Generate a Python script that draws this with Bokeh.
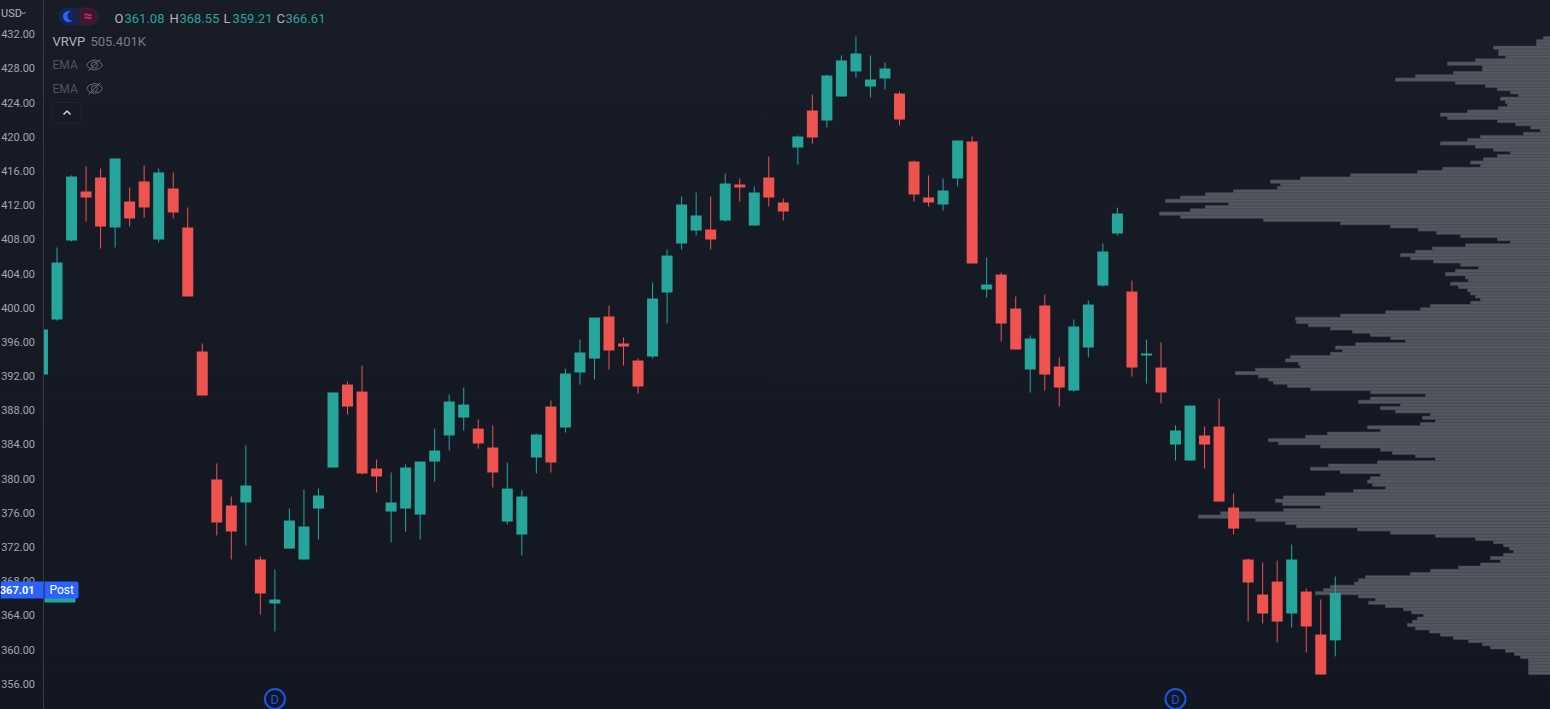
import numpy as np
from bokeh.plotting import figure
from bokeh.models import Range1d, FixedTicker, Label, BoxAnnotation, ColumnDataSource, NumeralTickFormatter
from bokeh.embed import file_html
from bokeh.resources import INLINE

# Daily candles, left to right (first one is cut by the price axis)
open_ = [392.18,398.62,407.86,413.59,415.23,409.38,412.42,414.76,407.98,413.94,409.38,394.87,379.90,376.85,377.21,370.54,365.39,371.82,370.54,376.50,381.30,391.01,390.19,381.18,376.15,376.50,375.80,382.00,385.05,387.15,385.86,383.64,374.98,373.46,382.47,388.44,385.98,392.42,394.05,398.97,395.81,393.82,394.29,401.78,407.51,409.03,409.15,410.20,414.41,409.61,415.23,412.31,418.74,423.07,421.90,424.71,427.63,425.88,426.81,425.06,417.10,412.89,412.07,415.11,419.44,402.13,403.88,399.90,392.77,400.26,393.12,390.31,395.34,402.59,408.68,401.89,394.41,393.00,383.99,382.12,385.05,386.10,376.62,370.54,366.44,367.96,364.22,366.79,361.76,361.08]
high = [397.45,407.04,415.47,416.52,416.28,417.45,414.06,416.64,416.28,415.82,411.72,395.81,381.77,377.91,383.87,370.89,369.37,376.50,378.73,378.84,390.08,391.36,393.23,382.24,380.72,381.65,382.00,385.86,389.84,390.66,386.92,386.22,381.89,378.61,385.28,389.14,392.88,396.28,398.85,400.26,396.51,394.05,402.95,406.81,413.01,413.48,413.01,415.70,415.11,414.18,417.69,412.77,420.15,424.94,427.28,429.51,431.73,429.51,428.69,425.29,417.22,415.47,415.11,419.56,420.03,405.87,404.12,401.31,396.75,401.54,394.17,398.62,400.84,407.51,411.72,403.18,396.28,395.93,386.22,388.55,386.10,389.37,378.26,370.65,370.19,370.42,372.29,367.14,365.86,368.55]
low = [392.18,398.50,407.74,410.08,406.92,407.04,409.50,410.55,407.63,410.43,401.31,389.72,373.35,370.54,372.18,364.10,362.11,371.82,370.42,372.88,381.30,387.50,380.48,378.38,372.53,373.81,372.88,379.66,383.29,385.63,383.52,378.96,374.63,371.01,380.60,380.72,385.40,391.01,391.60,392.77,393.23,389.96,394.05,398.15,406.81,408.45,406.81,410.08,412.42,409.61,411.84,410.20,416.75,419.21,421.08,424.71,426.93,424.59,425.53,421.32,412.42,411.84,411.37,414.18,405.17,401.19,396.04,395.11,390.08,390.31,388.44,390.19,394.17,402.48,408.45,391.95,391.13,388.79,382.12,382.12,381.18,377.32,373.46,363.28,363.05,360.83,362.58,359.66,357.08,359.21]
close = [397.45,405.29,415.35,412.89,409.50,417.45,410.43,411.72,415.82,411.14,401.31,389.72,374.87,373.81,379.20,366.56,365.86,375.10,374.40,378.03,390.08,388.44,380.60,380.25,377.21,381.30,382.00,383.29,389.02,388.67,384.11,380.72,378.84,377.91,385.16,381.89,392.30,394.76,398.85,394.99,395.46,390.78,401.07,406.10,412.07,410.79,407.98,414.53,414.06,413.48,412.89,411.25,420.03,419.91,427.17,428.92,429.74,426.70,427.98,422.02,413.24,412.31,413.71,419.56,405.17,402.71,398.15,395.11,396.39,392.18,390.66,397.80,400.37,406.57,411.02,393.00,394.64,390.08,385.63,388.55,383.99,377.32,374.16,367.85,364.22,363.28,370.54,362.70,357.08,366.61]

# Volume profile rows from the top price to the bottom price (relative volume)
volume = [7,14,14,57,52,52,45,75,103,68,
 68,97,135,155,95,65,53,40,32,50,
 45,43,52,83,110,103,53,35,20,10,
 27,70,83,110,75,57,40,53,67,80,
 70,108,133,200,250,280,270,273,317,345,
 370,385,322,345,360,391,370,287,210,160,
 132,114,90,53,40,85,118,135,150,140,
 117,90,72,95,105,85,82,100,92,83,
 80,75,70,80,120,130,165,210,255,254,
 242,220,198,180,160,145,195,215,208,220,
 260,265,252,250,295,315,292,282,277,263,
 240,180,125,180,192,150,170,155,120,128,
 115,130,183,170,223,245,282,272,230,170,
 158,135,115,173,222,240,210,170,180,183,
 178,165,197,225,267,275,268,230,267,330,
 352,295,265,254,193,160,115,75,57,47,
 41,37,47,60,50,70,92,120,140,185,
 192,196,220,227,235,192,175,182,165,147,
 139,127,133,138,143,135,121,110,97,82,
 68,60,45,36,30,22,22,22,22,22]

price_ticks = list(range(356, 433, 4))
post_price = 367.01
dividend_bars = [15, 77]
vrvp_total = "505.401K"

BG_MASK = "#161a25"
UP, DOWN = "#26a69a", "#ef5350"
FONT = "Roboto"

# reference pixel to data helpers (used for the overlay furniture only)
def X(px): return (px - 56.5) / 14.526
def Y(py): return 432 - (py - 33.7) / 8.547

p = figure(width=1550, height=709, output_backend="svg", toolbar_location=None,
           x_range=Range1d(X(0), X(1550)), y_range=Range1d(Y(709), Y(0)),
           min_border_left=0, min_border_right=0, min_border_top=0, min_border_bottom=0,
           background_fill_color=None, border_fill_color=None)
p.styles = {"background": "linear-gradient(#181c27,#131722)"}
p.outline_line_color = None
p.grid.visible = False
p.xaxis.visible = False
p.extra_x_ranges["vol"] = Range1d(1550, 0)

ya = p.yaxis[0]
ya.fixed_location = X(42.5)
ya.ticker = FixedTicker(ticks=price_ticks)
ya.formatter = NumeralTickFormatter(format="0.00")
ya.major_tick_line_color = None
ya.minor_tick_line_color = None
ya.major_tick_out = 0
ya.major_tick_in = 0
ya.major_label_standoff = 8
ya.axis_line_color = "#363a45"
ya.axis_line_width = 1
ya.major_label_text_color = "#a3a6af"
ya.major_label_text_font = FONT
ya.major_label_text_font_size = "11px"

# volume profile
edges = np.linspace(max(high), min(low), len(volume) + 1)
mids = (edges[:-1] + edges[1:]) / 2
p.hbar(y=mids, left=volume, right=0, height=abs(edges[1] - edges[0]), x_range_name="vol",
       fill_color="#54575f", line_color="#4a4d57", line_width=0.6)

# candles
idx = np.arange(len(open_)) - 1
colors = [UP if c >= o else DOWN for o, c in zip(open_, close)]
src = ColumnDataSource(dict(x=idx, o=open_, h=high, l=low, c=close, color=colors))
p.segment("x", "h", "x", "l", source=src, line_color="color", line_width=1)
p.vbar(x="x", top="o", bottom="c", width=0.757, source=src, fill_color="color", line_color=None)

# keep the cut candle from running under the price scale
p.quad(left=X(30), right=X(42.5), top=Y(320), bottom=Y(380), fill_color=BG_MASK, line_color=None)

# dividend markers
dv_y = [Y(698.5)] * len(dividend_bars)
p.scatter(dividend_bars, dv_y, size=20, marker="circle", fill_color=None, line_color="#1e53e5", line_width=2)
for b in dividend_bars:
    p.add_layout(Label(x=b, y=Y(698.5), text="D", text_align="center", text_baseline="middle",
                       text_font=FONT, text_font_size="13px", text_color="#1e53e5"))

def label(px, py, s, color, size="13px", align="left", style="normal"):
    p.add_layout(Label(x=X(px), y=Y(py), text=s, text_color=color, text_font=FONT, text_font_size=size,
                       text_align=align, text_baseline="middle", text_font_style=style))

def box(l, r, t, b, fill, radius=0, line=None, alpha=1.0):
    p.add_layout(BoxAnnotation(left=X(l), right=X(r), top=Y(t), bottom=Y(b), fill_color=fill, fill_alpha=alpha,
                               line_color=line, line_width=1, border_radius=radius, level="annotation"))

# header: currency
label(0.5, 12.5, "USD", "#b2b5be", "11px")
p.line([X(21), X(23), X(25)], [Y(11.5), Y(13.5), Y(11.5)], line_color="#b2b5be", line_width=1)

# session pill
box(58, 78, 7, 25, "#152550", radius=(9, 0, 0, 9))
box(78, 98, 7, 25, "#3a1a30", radius=(0, 9, 9, 0))
p.scatter([X(68)], [Y(16)], size=11, marker="circle", fill_color="#2962ff", line_color=None, level="overlay")
p.scatter([X(71.5)], [Y(15.5)], size=9, marker="circle", fill_color="#152550", line_color=None, level="overlay")
label(87, 15.5, "\u2248", "#e91e63", "15px", "center", "bold")

# OHLC readout
for lx, vx, t, v in [(114, 124, "O", open_[-1]), (169, 179, "H", high[-1]),
                     (223, 232, "L", low[-1]), (276, 285, "C", close[-1])]:
    label(lx, 17.5, t, "#b2b5be")
    label(vx, 17.5, f"{v:.2f}", "#26a69a")

label(52, 41, "VRVP", "#b2b5be")
label(90, 41, vrvp_total, "#787b86")

for ey in (64.5, 88):
    label(52, ey, "EMA", "#50535e", "12px")
    xs = [86, 89, 94, 99, 102, 99, 94, 89, 86]
    ys = [0, -3.5, -5, -3.5, 0, 3.5, 5, 3.5, 0]
    p.line([X(a) for a in xs], [Y(ey + b) for b in ys], line_color="#6a6d78", line_width=1)
    p.scatter([X(94)], [Y(ey)], size=6, marker="circle", fill_color=None, line_color="#6a6d78")
    p.line([X(88), X(100)], [Y(ey + 6), Y(ey - 6)], line_color="#6a6d78", line_width=1)

# collapse button
box(52, 81, 102, 123, None, radius=3, line="#363a45")
p.line([X(63), X(66.5), X(70)], [Y(114), Y(110.5), Y(114)], line_color="#d1d4dc", line_width=1.5, level="overlay")

# price tag
box(44, 75, 597, 602, "#26a69a", radius=1)
box(0, 43, 581, 598, "#2962ff")
box(44, 78, 581, 598, "#2962ff", radius=(0, 2, 2, 0))
label(34, 589.5, f"{post_price:.2f}", "#ffffff", "11px", "right", "bold")
label(49, 589.5, "Post", "#ffffff", "12px", "left", "normal")

open("out.html", "w").write(file_html(p, INLINE))
